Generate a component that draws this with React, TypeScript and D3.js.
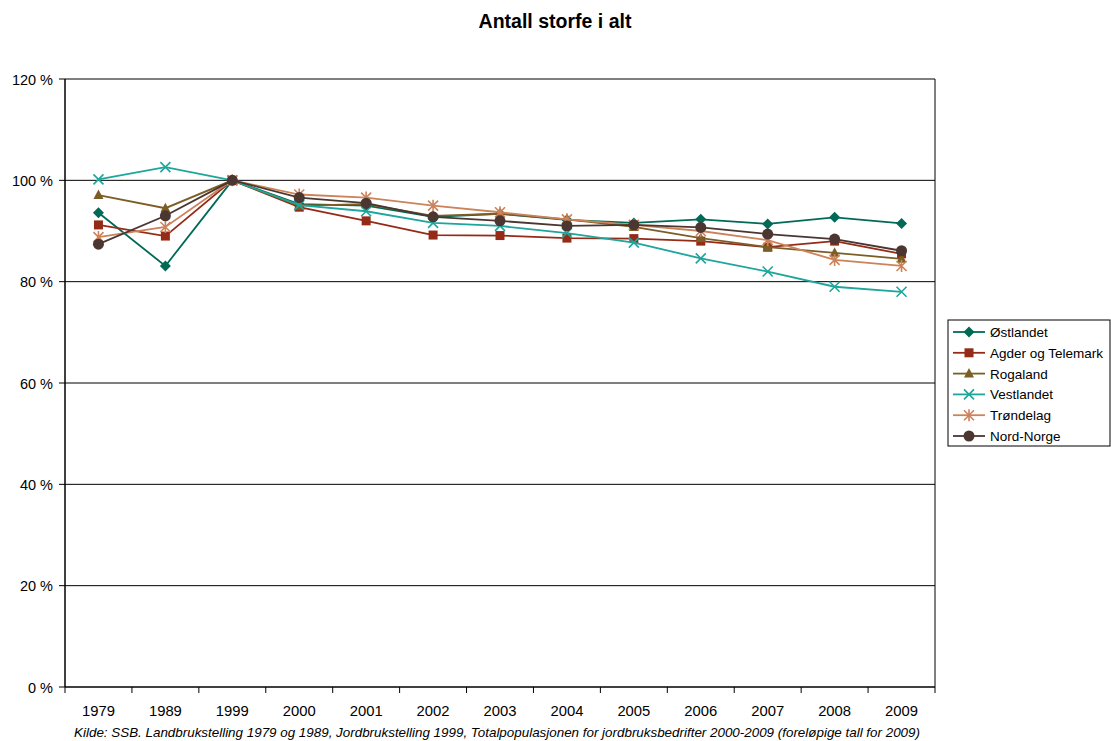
import React from "react";
import * as d3 from "d3";

const years = ["1979","1989","1999","2000","2001","2002","2003","2004","2005","2006","2007","2008","2009"];
const yTicks = [0, 20, 40, 60, 80, 100, 120];

const ostlandet = [93.6, 83.1, 100, 95.3, 95.0, 92.8, 93.4, 92.2, 91.6, 92.3, 91.4, 92.7, 91.5];
const agder = [91.2, 89.0, 100, 94.7, 92.0, 89.2, 89.1, 88.6, 88.5, 88.0, 86.8, 88.0, 85.5];
const rogaland = [97.1, 94.5, 100, 95.0, 95.3, 93.0, 93.4, 92.3, 90.8, 88.6, 86.8, 85.7, 84.5];
const vestlandet = [100.2, 102.6, 100, 95.1, 93.9, 91.6, 91.0, 89.6, 87.7, 84.6, 82.0, 79.0, 78.0];
const trondelag = [88.8, 90.8, 100, 97.2, 96.6, 95.0, 93.7, 92.3, 91.2, 90.0, 88.2, 84.3, 83.1];
const nordNorge = [87.4, 93.0, 100, 96.6, 95.5, 92.8, 92.0, 91.0, 91.2, 90.7, 89.4, 88.4, 86.1];

const seriesNames = ["Østlandet", "Agder og Telemark", "Rogaland", "Vestlandet", "Trøndelag", "Nord-Norge"];
const seriesValues = [ostlandet, agder, rogaland, vestlandet, trondelag, nordNorge];
const seriesColors = ["#006a56", "#952b17", "#7b5e25", "#1ea59c", "#cd835a", "#4b3631"];
const seriesMarkers = ["diamond", "square", "triangle", "x", "star", "circle"];

function Marker({ type, x, y, color }: { type: string; x: number; y: number; color: string }) {
  switch (type) {
    case "diamond":
      return <path d={`M${x},${y - 5.5}L${x + 5.5},${y}L${x},${y + 5.5}L${x - 5.5},${y}Z`} fill={color} />;
    case "square":
      return <rect x={x - 4.5} y={y - 4.5} width={9} height={9} fill={color} />;
    case "triangle":
      return <path d={`M${x},${y - 5.5}L${x + 5},${y + 4}L${x - 5},${y + 4}Z`} fill={color} />;
    case "x":
      return <path d={`M${x - 5},${y - 5}L${x + 5},${y + 5}M${x - 5},${y + 5}L${x + 5},${y - 5}`} stroke={color} strokeWidth={1.6} fill="none" />;
    case "star":
      return <path d={`M${x - 5},${y - 5}L${x + 5},${y + 5}M${x - 5},${y + 5}L${x + 5},${y - 5}M${x},${y - 6}L${x},${y + 6}`} stroke={color} strokeWidth={1.6} fill="none" />;
    case "circle":
      return <circle cx={x} cy={y} r={5.5} fill={color} />;
  }
  return null;
}

export default function App() {
  const W = 1111, H = 741;
  const left = 65, right = 935, top = 79, bottom = 687;
  const x = d3.scaleBand<string>().domain(years).range([left, right]);
  const y = d3.scaleLinear().domain([0, 120]).range([bottom, top]);
  const line = d3.line<number>().x((_, i) => (x(years[i]) as number) + x.bandwidth() / 2).y((v) => y(v));
  const font = "Liberation Sans, Arial, sans-serif";
  const boundaries = years.map((yr) => x(yr) as number).concat([right]);

  const legX = 948, legY = 320, legW = 162, legH = 126, legStep = 20.8;

  return (
    <svg width={W} height={H} style={{ position: "absolute", left: 0, top: 0, background: "#fff" }} fontFamily={font}>
      <rect x={0} y={0} width={W} height={H} fill="#fff" />
      <text x={555} y={28} textAnchor="middle" fontSize={19.5} fontWeight="bold">Antall storfe i alt</text>
      {yTicks.map((t) => (
        <g key={t}>
          {t > 0 && <line x1={left} x2={right} y1={y(t)} y2={y(t)} stroke="#000" strokeWidth={1} />}
          <line x1={left - 6} x2={left} y1={y(t)} y2={y(t)} stroke="#000" />
          <text x={53} y={y(t) + 5.5} textAnchor="end" fontSize={14.5}>{t} %</text>
        </g>
      ))}
      <line x1={right} x2={right} y1={top} y2={bottom} stroke="#000" />
      <line x1={left} x2={left} y1={top} y2={bottom} stroke="#000" strokeWidth={1.5} />
      <line x1={left} x2={right} y1={bottom} y2={bottom} stroke="#000" strokeWidth={1.5} />
      {boundaries.map((b, i) => (
        <line key={i} x1={b} x2={b} y1={bottom} y2={bottom + 6} stroke="#000" />
      ))}
      {years.map((yr) => (
        <text key={yr} x={(x(yr) as number) + x.bandwidth() / 2} y={716} textAnchor="middle" fontSize={14.8}>{yr}</text>
      ))}
      <text x={497} y={737} textAnchor="middle" fontSize={13.4} fontStyle="italic">
        Kilde: SSB. Landbrukstelling 1979 og 1989, Jordbrukstelling 1999, Totalpopulasjonen for jordbruksbedrifter 2000-2009 (foreløpige tall for 2009)
      </text>
      {seriesValues.map((vals, si) => (
        <g key={si}>
          <path d={line(vals) as string} fill="none" stroke={seriesColors[si]} strokeWidth={1.8} />
          {vals.map((v, i) => (
            <Marker key={i} type={seriesMarkers[si]} x={(x(years[i]) as number) + x.bandwidth() / 2} y={y(v)} color={seriesColors[si]} />
          ))}
        </g>
      ))}
      <rect x={legX} y={legY} width={legW} height={legH} fill="#fff" stroke="#000" />
      {seriesNames.map((n, i) => {
        const ly = legY + 12 + i * legStep;
        return (
          <g key={n}>
            <line x1={953} x2={985} y1={ly} y2={ly} stroke={seriesColors[i]} strokeWidth={1.8} />
            <Marker type={seriesMarkers[i]} x={969} y={ly} color={seriesColors[i]} />
            <text x={990} y={ly + 5} fontSize={13.5}>{n}</text>
          </g>
        );
      })}
    </svg>
  );
}
